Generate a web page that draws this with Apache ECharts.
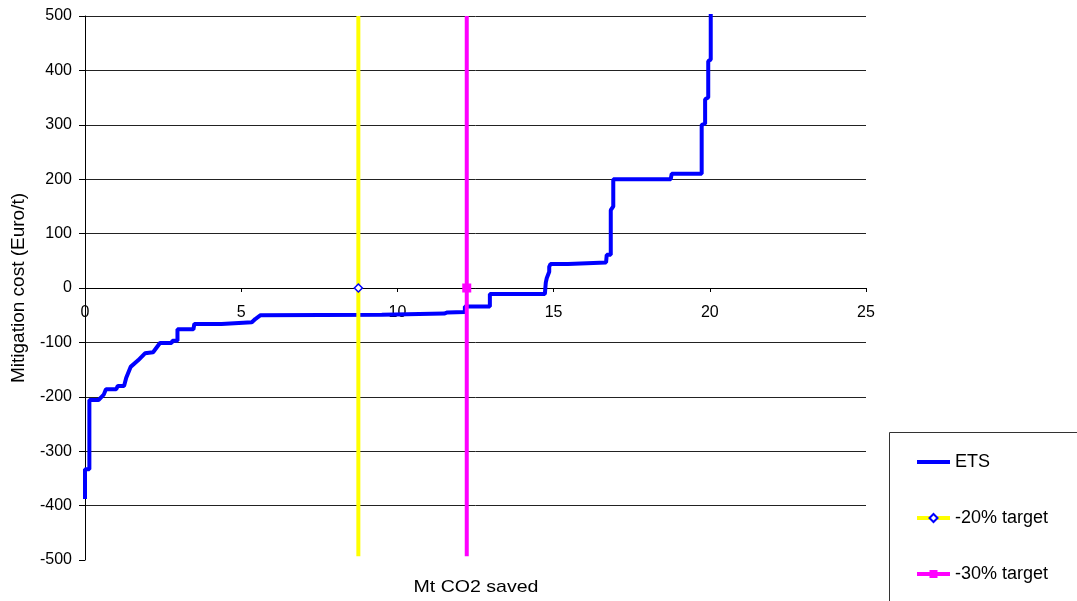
<!DOCTYPE html>
<html>
<head>
<meta charset="utf-8">
<title>ETS mitigation cost curve</title>
<script src="https://cdn.jsdelivr.net/npm/echarts@6/dist/echarts.min.js"></script>
<style>
  html, body { margin: 0; padding: 0; background: #fff; }
  #chart { width: 1077px; height: 601px; }
</style>
</head>
<body>
<div id="chart"></div>
<script>
// Cumulative abatement (Mt CO2) and marginal cost (Euro/t) along the ETS curve
const savedMt = [
  0, 0, 0.14, 0.14, 0.43, 0.53, 0.60, 0.67, 1.00, 1.05, 1.25, 1.32, 1.46, 1.70, 1.92,
  2.18, 2.40, 2.77, 2.80, 2.96, 2.96, 3.47, 3.50, 4.37, 4.40, 5.34, 5.45, 5.50, 5.62,
  9.50, 11.50, 11.60, 12.16, 12.16, 12.96, 12.96, 14.72, 14.75, 14.78, 14.86, 14.86,
  14.90, 15.46, 15.50, 16.68, 16.70, 16.83, 16.83, 16.91, 16.91, 18.75, 18.78, 19.74,
  19.74, 19.85, 19.85, 19.95, 19.95, 20.03, 20.03
];
const costEuro = [
  -388, -333, -333, -206, -206, -200, -196, -186, -186, -180, -180, -165, -145, -133, -120,
  -118, -101, -101, -97, -97, -76, -76, -66, -66, -63, -63, -57, -55, -50,
  -49, -47, -45, -44, -34, -34, -11, -11, 10, 18, 30, 39,
  44, 44, 47, 47, 61, 61, 143, 150, 200, 200, 210, 210,
  300, 302, 347, 350, 417, 420, 520
];

// Emission reduction targets (Mt CO2) and the cost range their vertical lines span
const target20 = 8.75;
const target30 = 12.22;
const targetCosts = [500, 0, -493];

const xTicks = { min: 0, max: 25, interval: 5 };
const yTicks = { min: -500, max: 500, interval: 100 };

const font = '"Liberation Sans", Arial, sans-serif';

const etsData = savedMt.map((x, i) => [x, costEuro[i]]);
function targetData(x) {
  return targetCosts.map(c => c === 0 ? [x, c] : { value: [x, c], symbol: 'none' });
}

const gridTop = 16, gridBottom = 41, chartHeight = 601;
// place the horizontal axis on the zero cost line
const zeroOffset = -((chartHeight - gridBottom - gridTop) * (0 - yTicks.min) / (yTicks.max - yTicks.min));

const chart = echarts.init(document.getElementById('chart'), null, { renderer: 'canvas' });
chart.setOption({
  animation: false,
  backgroundColor: '#fff',
  textStyle: { fontFamily: font, color: '#000' },
  grid: { left: 85, right: 211, top: gridTop, bottom: gridBottom, containLabel: false },
  xAxis: {
    type: 'value',
    position: 'bottom',
    offset: zeroOffset,
    min: xTicks.min, max: xTicks.max, interval: xTicks.interval,
    axisLine: { onZero: false, lineStyle: { color: '#000', width: 1 } },
    axisTick: { show: true, length: 4, lineStyle: { color: '#000' } },
    axisLabel: { color: '#000', fontSize: 16, fontFamily: font, margin: 17 },
    splitLine: { show: false }
  },
  yAxis: {
    type: 'value',
    min: yTicks.min, max: yTicks.max, interval: yTicks.interval,
    name: 'Mitigation cost (Euro/t)',
    nameLocation: 'middle',
    nameGap: 57,
    nameTextStyle: { color: '#000', fontSize: 19, fontFamily: font },
    axisLine: { show: true, lineStyle: { color: '#000', width: 1 } },
    axisTick: { show: true, length: 6, lineStyle: { color: '#000' } },
    axisLabel: { color: '#000', fontSize: 16, fontFamily: font, margin: 13 },
    splitLine: {
      show: true,
      lineStyle: {
        width: 1,
        color: ['transparent', '#222', '#222', '#222', '#222', '#222', '#222', '#222', '#222', '#222', '#222']
      }
    }
  },
  legend: {
    orient: 'vertical',
    left: 915,
    top: 453,
    padding: 0,
    itemWidth: 33,
    itemHeight: 10,
    itemGap: 38,
    textStyle: { color: '#000', fontSize: 18, fontFamily: font },
    data: [
      { name: 'ETS', itemStyle: { opacity: 0 }, lineStyle: { width: 4, color: '#0000ff' } },
      { name: '-20% target', lineStyle: { width: 4, color: '#ffff00' } },
      { name: '-30% target', lineStyle: { width: 4, color: '#ff00ff' } }
    ]
  },
  graphic: [
    {
      type: 'polyline',
      shape: { points: [[889.5, 601], [889.5, 432.5], [1077, 432.5]] },
      style: { stroke: '#333', lineWidth: 1, fill: null },
      silent: true
    },
    {
      type: 'text',
      x: 476,
      y: 587,
      scaleX: 1.15,
      style: {
        text: 'Mt CO2 saved', fill: '#000', font: '17px ' + font,
        align: 'center', verticalAlign: 'middle'
      }
    }
  ],
  series: [
    {
      name: 'ETS',
      type: 'line',
      data: etsData,
      showSymbol: false,
      symbol: 'none',
      clip: true,
      lineStyle: { color: '#0000ff', width: 4 },
      itemStyle: { color: '#0000ff' }
    },
    {
      name: '-20% target',
      type: 'line',
      data: targetData(target20),
      symbol: 'diamond',
      symbolSize: 8,
      showSymbol: true,
      lineStyle: { color: '#ffff00', width: 4 },
      itemStyle: { color: '#ffffff', borderColor: '#0000ff', borderWidth: 1.5 }
    },
    {
      name: '-30% target',
      type: 'line',
      data: targetData(target30),
      symbol: 'rect',
      symbolSize: 9,
      showSymbol: true,
      lineStyle: { color: '#ff00ff', width: 4 },
      itemStyle: { color: '#ff00ff' }
    }
  ]
});
</script>
</body>
</html>
